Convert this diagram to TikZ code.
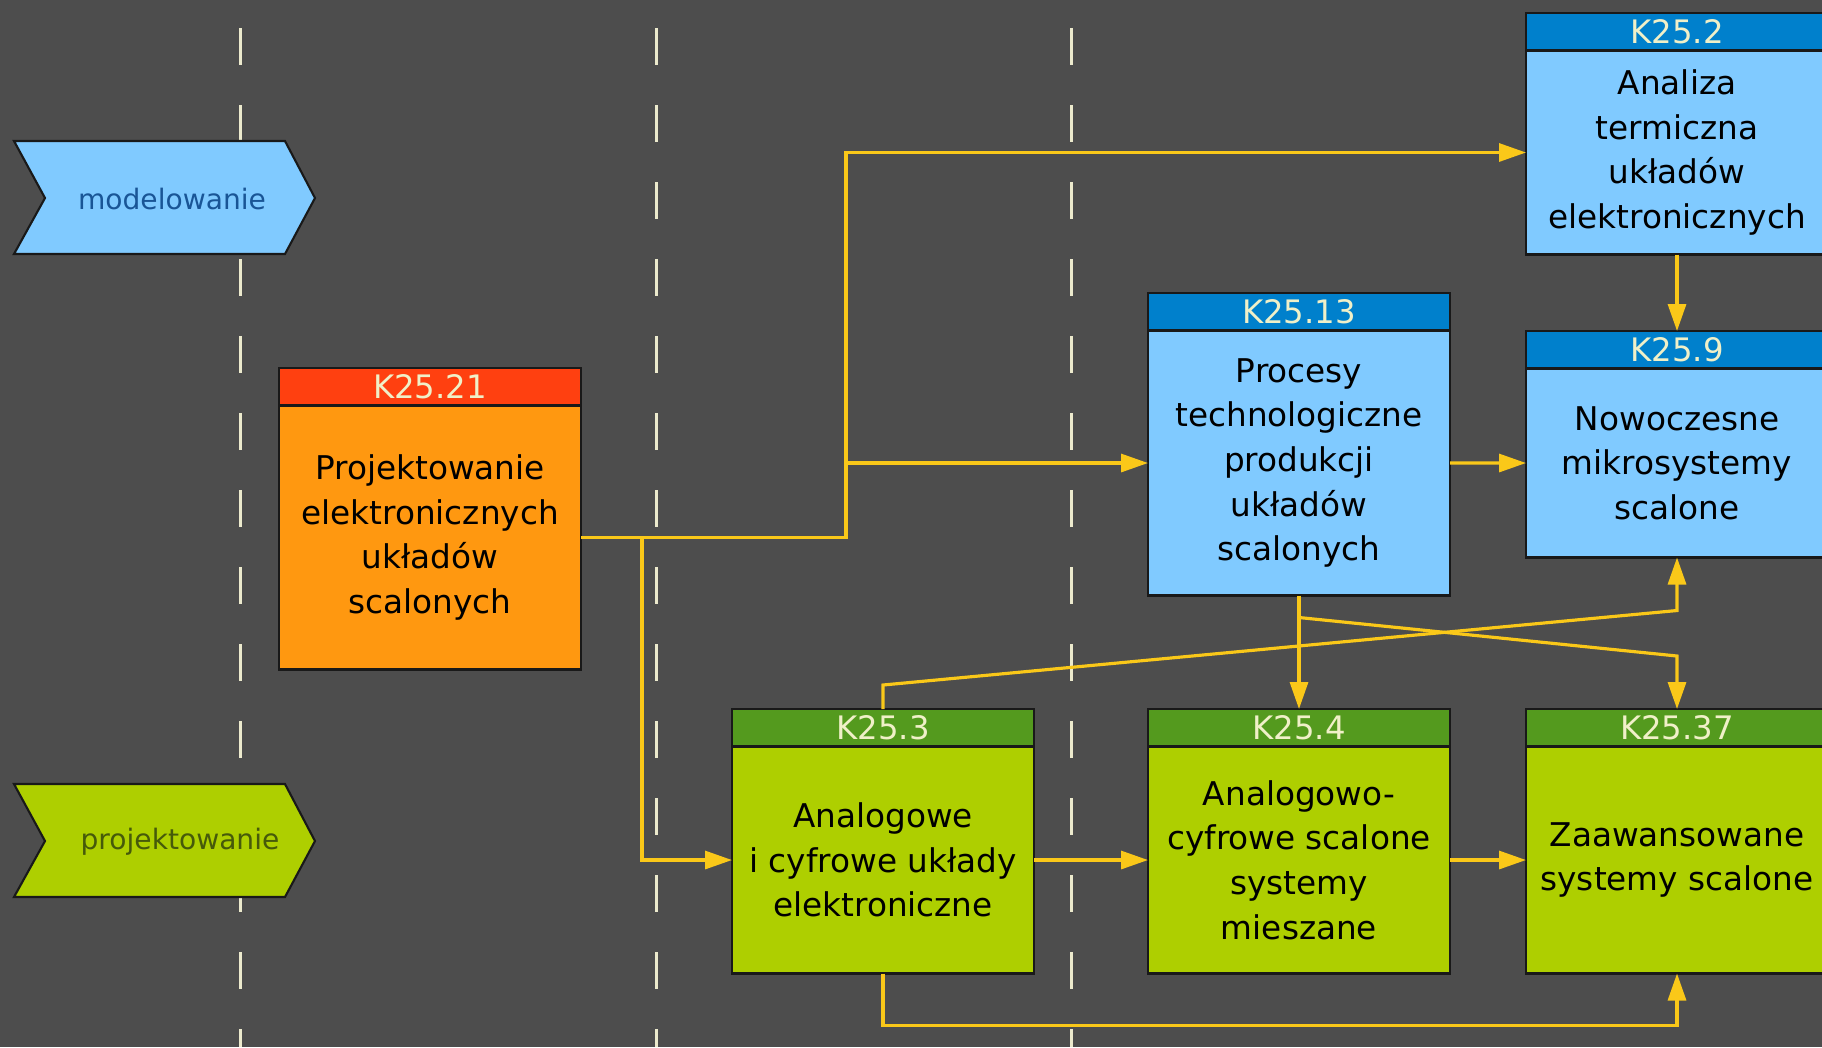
\documentclass[tikz,border=0pt]{standalone}
\usepackage{fontspec}
\setmainfont{DejaVu Sans}
\usetikzlibrary{positioning}
\usetikzlibrary{arrows.meta}
\usetikzlibrary{calc}
\definecolor{figTlo}{RGB}{77,77,77}
\definecolor{figNiebieski}{RGB}{128,202,255}
\definecolor{figNiebieskiNaglowek}{RGB}{0,128,204}
\definecolor{figNiebieskiTekst}{RGB}{25,85,150}
\definecolor{figZielony}{RGB}{174,207,0}
\definecolor{figZielonyNaglowek}{RGB}{84,154,30}
\definecolor{figZielonyTekst}{RGB}{70,90,10}
\definecolor{figPomarancz}{RGB}{255,152,16}
\definecolor{figPomaranczNaglowek}{RGB}{255,64,16}
\definecolor{figRamka}{RGB}{25,25,25}
\definecolor{figZolty}{RGB}{250,200,25}
\definecolor{figKremowy}{RGB}{236,234,205}
\definecolor{figTekstNaglowka}{RGB}{240,240,200}
\tikzset{
  naglowek/.style={
    rectangle, draw=figRamka, line width=0.6pt, anchor=north west,
    minimum width=3.02cm, minimum height=0.375cm, inner sep=0pt, outer sep=0pt,
    font=\fontsize{9.2}{10}\selectfont, text=figTekstNaglowka
  },
  blok/.style={
    rectangle, draw=figRamka, line width=0.6pt, minimum width=3.02cm,
    inner sep=2pt, outer sep=0pt, align=center,
    font=\fontsize{9.3}{12.7}\selectfont, text=black
  },
  etap/.style={draw=figRamka, line width=0.6pt},
  etykieta/.style={font=\fontsize{8}{9}\selectfont, inner sep=0pt},
  strzalka/.style={-{Triangle[length=0.27cm, width=0.18cm]}, line width=0.9pt, draw=figZolty},
  przerywana/.style={line width=0.9pt, draw=figKremowy, dash pattern=on 0.37cm off 0.4cm, dash phase=0.49cm}
}

\begin{document}
\begin{tikzpicture}
  \useasboundingbox (0,0) rectangle (18.22,-10.47);
  \clip (0,0) rectangle (18.22,-10.47);
  \fill[figTlo] (0,0) rectangle (18.22,-10.47);

  % linie podzialu
  \draw[przerywana] (2.405,0) -- (2.405,-10.47);
  \draw[przerywana] (6.565,0) -- (6.565,-10.47);
  \draw[przerywana] (10.715,0) -- (10.715,-10.47);

  % etapy
  \draw[etap, fill=figNiebieski] (0.14,-1.41) -- (2.85,-1.41) -- (3.15,-1.98)
    -- (2.85,-2.54) -- (0.14,-2.54) -- (0.45,-1.98) -- cycle;
  \node[etykieta, text=figNiebieskiTekst] (modelowanie) at (1.72,-1.99) {modelowanie};
  \draw[etap, fill=figZielony] (0.14,-7.84) -- (2.85,-7.84) -- (3.15,-8.41)
    -- (2.85,-8.97) -- (0.14,-8.97) -- (0.45,-8.41) -- cycle;
  \node[etykieta, text=figZielonyTekst] (projektowanie) at (1.80,-8.42) {projektowanie};

  % przedmioty
  \node[naglowek, fill=figPomaranczNaglowek] (h21) at (2.79,-3.68) {K25.21};
  \node[blok, fill=figPomarancz, minimum height=2.64cm, below=0pt of h21] (k21)
    {Projektowanie\\elektronicznych\\układów\\scalonych};

  \node[naglowek, fill=figNiebieskiNaglowek] (h2) at (15.26,-0.13) {K25.2};
  \node[blok, fill=figNiebieski, minimum height=2.04cm, below=0pt of h2] (k2)
    {Analiza\\termiczna\\układów\\elektronicznych};

  \node[naglowek, fill=figNiebieskiNaglowek] (h13) at (11.48,-2.93) {K25.13};
  \node[blok, fill=figNiebieski, minimum height=2.65cm, below=0pt of h13] (k13)
    {Procesy\\technologiczne\\produkcji\\układów\\scalonych};

  \node[naglowek, fill=figNiebieskiNaglowek] (h9) at (15.26,-3.31) {K25.9};
  \node[blok, fill=figNiebieski, minimum height=1.89cm, below=0pt of h9] (k9)
    {Nowoczesne\\mikrosystemy\\scalone};

  \node[naglowek, fill=figZielonyNaglowek] (h3) at (7.32,-7.09) {K25.3};
  \node[blok, fill=figZielony, minimum height=2.27cm, below=0pt of h3] (k3)
    {Analogowe\\i cyfrowe układy\\elektroniczne};

  \node[naglowek, fill=figZielonyNaglowek] (h4) at (11.48,-7.09) {K25.4};
  \node[blok, fill=figZielony, minimum height=2.27cm, below=0pt of h4] (k4)
    {Analogowo-\\cyfrowe scalone\\systemy\\mieszane};

  \node[naglowek, fill=figZielonyNaglowek] (h37) at (15.26,-7.09) {K25.37};
  \node[blok, fill=figZielony, minimum height=2.27cm, below=0pt of h37] (k37)
    {Zaawansowane\\systemy scalone};

  % powiazania
  \path (k21.east) ++(2.65,0) coordinate (rozg1);
  \path (k21.east) ++(0.61,0) coordinate (rozg2);

  \draw[strzalka] (k21.east) -- (rozg1) |- (k2.west);
  \draw[strzalka] (rozg1 |- k13.west) -- (k13.west);
  \draw[strzalka] (rozg2) |- (k3.west);
  \draw[strzalka] (k13.east) -- (k9.west);
  \draw[strzalka] (k2.south) -- (h9.north);
  \draw[strzalka] (k13.south) -- (h4.north);
  \draw[strzalka] ($(k13.south)+(0,-0.22)$) -- ($(h37.north)+(0,0.53)$) -- (h37.north);
  \draw[strzalka] (h3.north) -- ++(0,0.24) -- ($(k9.south)+(0,-0.53)$) -- (k9.south);
  \draw[strzalka] (k3.south) -- ++(0,-0.52) -| (k37.south);
  \draw[strzalka] (k3.east) -- (k4.west);
  \draw[strzalka] (k4.east) -- (k37.west);
\end{tikzpicture}
\end{document}
